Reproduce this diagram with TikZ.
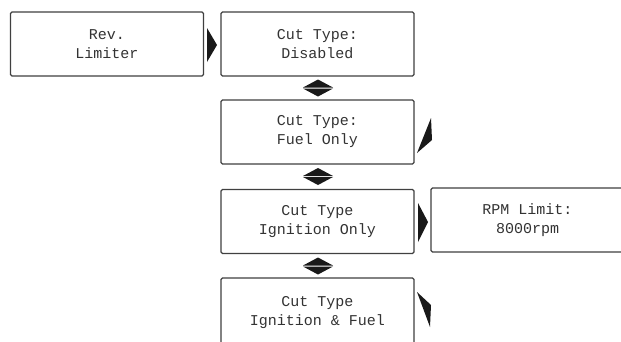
\documentclass[tikz,border=0pt]{standalone}
\usepackage{fontspec}
\setmonofont{Liberation Mono}
\begin{document}
\begin{tikzpicture}[x=1pt, y=-1pt,
    screen/.style={draw=black!75, line width=1.3pt, rounded corners=1.5pt,
        minimum width=193pt, minimum height=64pt, align=center, text=black!80,
        font=\ttfamily\fontsize{15}{19}\selectfont},
    marker/.style={fill=black!90, draw=none}]

    \clip (0,0) rectangle (621,341);
    \fill[white] (0,0) rectangle (621,341);

    % === Screens ===
    \node[screen] (rev)  at (107, 44)    {Rev.\\Limiter};
    \node[screen] (dis)  at (317.5, 44)  {Cut Type:\\Disabled};
    \node[screen] (fuel) at (317.5, 132) {Cut Type:\\Fuel Only};
    \node[screen] (ign)  at (317.5, 221.5) {Cut Type\\Ignition Only};
    \node[screen] (rpm)  at (527.5, 220) {RPM Limit:\\8000rpm};
    \node[screen, minimum height=70pt] (igf) at (317.5, 313) {Cut Type\\Ignition \& Fuel};

    % === Enter markers (right of a screen) ===
    \fill[marker] (207, 28) -- (217, 45) -- (207, 62) -- cycle;
    \fill[marker] (418, 203) -- (428, 222) -- (418, 242) -- cycle;

    % slanted ones
    \fill[marker] (417, 153) -- (431, 118) -- (432, 140) -- cycle;
    \fill[marker] (417, 292) -- (431, 305) -- (430, 327) -- cycle;

    % === Up/down markers between the cut type screens ===
    \foreach \y in {88, 176.5, 266} {
        \fill[marker] (303, \y-0.5) -- (318, \y-8.5) -- (333, \y-0.5) -- cycle;
        \fill[marker] (303, \y+0.5) -- (318, \y+8.5) -- (333, \y+0.5) -- cycle;
    }

\end{tikzpicture}
\end{document}
